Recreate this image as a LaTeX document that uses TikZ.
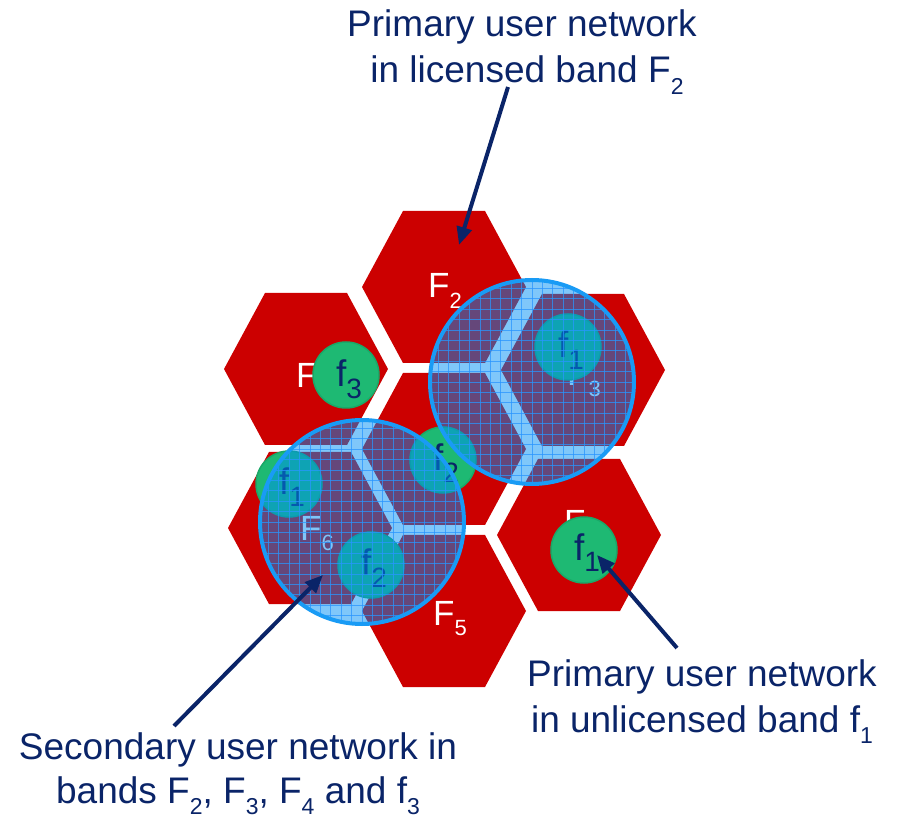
\documentclass[tikz,border=0pt]{standalone}
\usepackage{fontspec}
\setmainfont{Liberation Sans}
\usetikzlibrary{arrows.meta}
\definecolor{hexred}{RGB}{204,0,0}
\definecolor{fgreen}{RGB}{30,185,115}
\definecolor{fgreenedge}{RGB}{26,168,104}
\definecolor{navy}{RGB}{10,36,104}
\definecolor{ovblue}{RGB}{0,143,245}
\definecolor{gridblue}{RGB}{40,150,255}
\definecolor{ringblue}{RGB}{25,155,245}
\newcommand{\sbs}[2][23]{\raisebox{-0.3em}{\fontsize{#1}{#1}\selectfont #2}}
\tikzset{
  hexa/.pic={\fill[hexred] (-82,0) -- (-41,-76) -- (41,-76) -- (82,0) -- (41,76) -- (-41,76) -- cycle;},
  hexlabel/.style={text=white, font=\fontsize{35}{35}\selectfont, inner sep=0pt, anchor=base west},
  fcirc/.style={circle, fill=fgreen, draw=fgreenedge, line width=1.5pt, minimum size=66pt, inner sep=0pt},
  ftext/.style={text=navy, font=\fontsize{37}{37}\selectfont, inner sep=0pt, anchor=base},
  note/.style={text=navy, font=\fontsize{37}{37}\selectfont, inner sep=0pt, anchor=base},
  pointer/.style={draw=navy, line width=4pt, -{Triangle[length=18pt,width=15pt]}},
  overlay fill/.style={fill=ovblue, opacity=0.5},
  overlay grid/.style={draw=gridblue, line width=0.8pt, opacity=0.75},
  ring/.style={draw=ringblue, line width=4pt},
}
\begin{document}
\begin{tikzpicture}[x=1pt,y=-1pt]
\useasboundingbox (0,0) rectangle (898,818);
% hexagon centres
\coordinate (h2) at (444,287);
\coordinate (h4) at (306,369);
\coordinate (h3) at (583,370);
\coordinate (h1) at (444,449);
\coordinate (hbr) at (579,535);
\coordinate (h5) at (444,611);
\coordinate (h6) at (310,528);
\foreach \h in {h2,h4,h3,h1,hbr,h5,h6} \pic at (\h) {hexa};
% hexagon labels
\node[hexlabel] (l2) at (428,298) {F\sbs[22]{2}};
\node[hexlabel] (l4) at (296,388) {F};
\node[hexlabel] (l3) at (567,386) {F\sbs[22]{3}};
\node[hexlabel] (l6) at (300,540) {F\sbs[22]{6}};
\node[hexlabel] (l5) at (433,625) {F\sbs[22]{5}};
\node[hexlabel] (lbr) at (564,535) {F};
% small green circles
\node[fcirc] (g3) at (346,375) {};
\node[fcirc] (g1a) at (568,347) {};
\node[fcirc] (g2a) at (443,460) {};
\node[fcirc] (g1b) at (289,484) {};
\node[fcirc] (g2b) at (371,565) {};
\node[fcirc] (g1c) at (584,550) {};
\node[ftext] (tg3) at ([xshift=3pt,yshift=-12pt]g3.center) {f\sbs[28]{3}};
\node[ftext] (tg1a) at ([xshift=3pt,yshift=-11pt]g1a.center) {f\sbs[28]{1}};
\node[ftext] (tg2a) at ([xshift=3pt,yshift=-11pt]g2a.center) {f\sbs[28]{2}};
\node[ftext] (tg1b) at ([xshift=3pt,yshift=-11pt]g1b.center) {f\sbs[28]{1}};
\node[ftext] (tg2b) at ([xshift=3pt,yshift=-11pt]g2b.center) {f\sbs[28]{2}};
\node[ftext] (tg1c) at ([xshift=3pt,yshift=-10pt]g1c.center) {f\sbs[28]{1}};
% secondary network overlays
\coordinate (o1) at (532,382);
\coordinate (o2) at (362,522);
\foreach \o in {o1,o2}{
  \begin{scope}
    \clip (\o) circle (102pt);
    \fill[overlay fill] (\o) circle (102pt);
    \foreach \k in {-10,...,10}{
      \draw[overlay grid] ([xshift=\k*10.4pt,yshift=-110pt]\o) -- ([xshift=\k*10.4pt,yshift=110pt]\o);
      \draw[overlay grid] ([yshift=\k*10.4pt,xshift=-110pt]\o) -- ([yshift=\k*10.4pt,xshift=110pt]\o);
    }
  \end{scope}
  \draw[ring] (\o) circle (102pt);
}
% annotations
\node[note] (t1a) at (522,37) {Primary user network};
\node[note] (t1b) at (527,83) {in licensed band F\sbs{2}};
\node[note] (t2a) at (702,686) {Primary user network};
\node[note] (t2b) at (702,732) {in unlicensed band f\sbs{1}};
\node[note] (t3a) at (238,759) {Secondary user network in};
\node[note] (t3b) at (238,803) {bands F\sbs{2}, F\sbs{3}, F\sbs{4} and f\sbs{3}};
% pointers
\coordinate (p1s) at (508,87);
\coordinate (p1e) at (459,245);
\coordinate (p2s) at (677,648);
\coordinate (p2e) at (597,555);
\coordinate (p3s) at (174,726);
\coordinate (p3e) at (323,575);
\draw[pointer] (p1s) -- (p1e);
\draw[pointer] (p2s) -- (p2e);
\draw[pointer] (p3s) -- (p3e);
\end{tikzpicture}
\end{document}
